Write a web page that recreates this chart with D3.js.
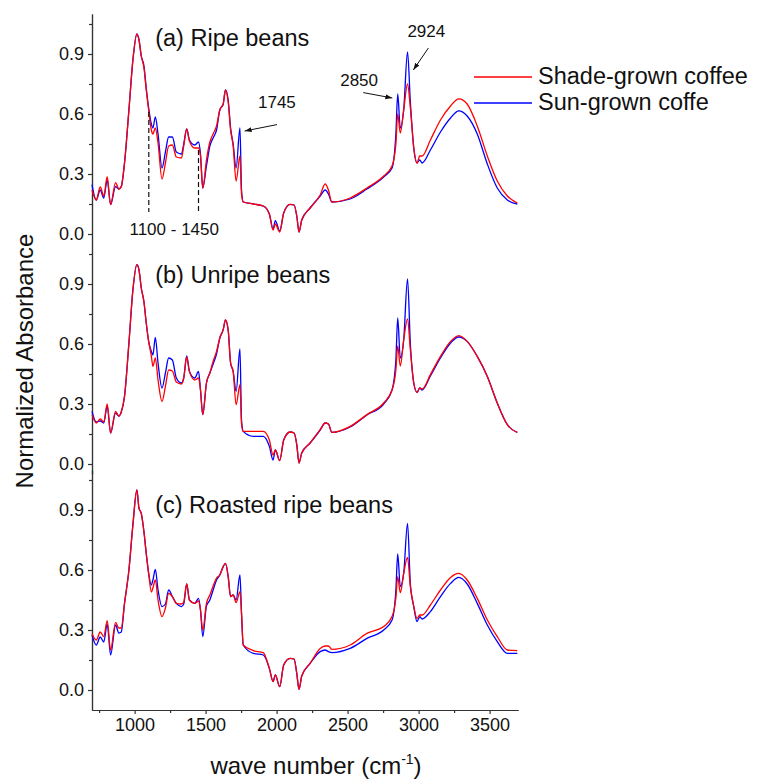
<!doctype html>
<html>
<head>
<meta charset="utf-8">
<script src="https://d3js.org/d3.v7.min.js"></script>
<style>
    body { margin: 0; background: #fff; }
    text { font-family: "Liberation Sans", Arial, sans-serif; fill: #111; }
    .axis path, .axis line { stroke: #333; stroke-width: 1.2; }
    .axis text { font-size: 18px; fill: #111; }
</style>
</head>
<body>
<div id="chart"></div>
<script>

// wave numbers shared by every spectrum (cm-1)
var waveNumbers = [700, 730, 758, 783, 807, 831, 866, 889, 906, 929, 960, 988, 1016, 1031, 1047, 1066, 1082, 1099,
    1118, 1129, 1146, 1165, 1193, 1217, 1240, 1266, 1294, 1330, 1346, 1367, 1386, 1424, 1450, 1464, 1480, 1506,
    1530, 1553, 1577, 1600, 1624, 1640, 1659, 1676, 1694, 1715, 1742, 1753, 1765, 1836, 1906, 1949, 1975, 1991,
    2022, 2050, 2095, 2123, 2142, 2158, 2177, 2236, 2307, 2342, 2365, 2389, 2518, 2636, 2754, 2813, 2840, 2853,
    2871, 2895, 2922, 2942, 2966, 2989, 3008, 3025, 3083, 3154, 3225, 3283, 3342, 3413, 3484, 3554, 3625, 3695];

// (a) ripe beans
var ripeShade = [0.22, 0.17, 0.235, 0.19, 0.287, 0.147, 0.257, 0.225, 0.237, 0.355, 0.62, 0.87, 1.0, 0.97, 0.89, 0.83, 0.72, 0.62,
    0.52, 0.50, 0.53, 0.455, 0.275, 0.355, 0.44, 0.445, 0.385, 0.38, 0.44, 0.525, 0.465, 0.43, 0.43, 0.39, 0.23, 0.37,
    0.46, 0.50, 0.54, 0.62, 0.65, 0.72, 0.66, 0.52, 0.44, 0.265, 0.39, 0.20, 0.16, 0.15, 0.14, 0.10, 0.02, 0.05,
    0.01, 0.105, 0.148, 0.145, 0.09, 0.01, 0.07, 0.13, 0.195, 0.25, 0.22, 0.16, 0.18, 0.23, 0.29, 0.34, 0.45, 0.60,
    0.505, 0.62, 0.75, 0.63, 0.43, 0.355, 0.39, 0.39, 0.47, 0.57, 0.64, 0.676, 0.65, 0.54, 0.39, 0.265, 0.19, 0.155];
var ripeSun = [0.247, 0.17, 0.22, 0.18, 0.27, 0.147, 0.237, 0.225, 0.237, 0.355, 0.62, 0.87, 1.0, 0.97, 0.89, 0.84, 0.73, 0.63,
    0.55, 0.53, 0.585, 0.50, 0.33, 0.41, 0.485, 0.485, 0.41, 0.40, 0.45, 0.525, 0.47, 0.445, 0.46, 0.40, 0.23, 0.34,
    0.44, 0.48, 0.52, 0.62, 0.65, 0.72, 0.67, 0.53, 0.45, 0.33, 0.53, 0.22, 0.16, 0.15, 0.14, 0.10, 0.025, 0.067,
    0.015, 0.105, 0.148, 0.145, 0.09, 0.01, 0.07, 0.13, 0.19, 0.22, 0.20, 0.16, 0.175, 0.225, 0.285, 0.33, 0.50, 0.70,
    0.53, 0.62, 0.91, 0.66, 0.43, 0.355, 0.37, 0.355, 0.42, 0.51, 0.58, 0.616, 0.59, 0.50, 0.35, 0.23, 0.17, 0.15];

// (b) unripe beans
var unripeShade = [0.247, 0.205, 0.225, 0.21, 0.30, 0.155, 0.263, 0.24, 0.26, 0.338, 0.605, 0.87, 0.997, 0.97, 0.88, 0.81, 0.705, 0.613,
    0.54, 0.488, 0.53, 0.42, 0.313, 0.388, 0.47, 0.465, 0.41, 0.40, 0.43, 0.535, 0.463, 0.42, 0.43, 0.37, 0.247, 0.405,
    0.455, 0.513, 0.563, 0.63, 0.672, 0.72, 0.67, 0.505, 0.463, 0.297, 0.397, 0.20, 0.163, 0.163, 0.163, 0.12, 0.045, 0.07,
    0.017, 0.12, 0.16, 0.155, 0.097, 0.005, 0.055, 0.105, 0.172, 0.205, 0.20, 0.158, 0.188, 0.247, 0.305, 0.37, 0.47, 0.59,
    0.49, 0.62, 0.725, 0.57, 0.405, 0.358, 0.38, 0.375, 0.447, 0.538, 0.613, 0.642, 0.613, 0.538, 0.438, 0.305, 0.197, 0.158];
var unripeSun = [0.263, 0.21, 0.215, 0.205, 0.29, 0.155, 0.255, 0.24, 0.26, 0.338, 0.605, 0.87, 0.997, 0.97, 0.88, 0.81, 0.705, 0.613,
    0.563, 0.545, 0.633, 0.505, 0.38, 0.455, 0.53, 0.52, 0.43, 0.405, 0.43, 0.54, 0.463, 0.43, 0.463, 0.37, 0.247, 0.405,
    0.455, 0.50, 0.55, 0.63, 0.672, 0.72, 0.67, 0.505, 0.463, 0.363, 0.575, 0.22, 0.163, 0.138, 0.138, 0.088, 0.02, 0.07,
    0.017, 0.12, 0.16, 0.155, 0.097, 0.005, 0.055, 0.105, 0.17, 0.205, 0.20, 0.158, 0.185, 0.245, 0.30, 0.37, 0.52, 0.73,
    0.53, 0.62, 0.925, 0.60, 0.405, 0.358, 0.38, 0.37, 0.44, 0.53, 0.605, 0.635, 0.613, 0.538, 0.438, 0.305, 0.197, 0.158];

// (c) roasted ripe beans
var roastedShade = [0.283, 0.25, 0.29, 0.267, 0.347, 0.20, 0.338, 0.31, 0.31, 0.433, 0.60, 0.825, 1.0, 0.908, 0.883, 0.79, 0.683, 0.583,
    0.49, 0.51, 0.55, 0.45, 0.367, 0.41, 0.483, 0.467, 0.433, 0.43, 0.44, 0.53, 0.45, 0.433, 0.445, 0.40, 0.30, 0.433,
    0.475, 0.52, 0.56, 0.575, 0.617, 0.633, 0.567, 0.467, 0.475, 0.437, 0.492, 0.383, 0.225, 0.197, 0.187, 0.108, 0.042, 0.075,
    0.017, 0.125, 0.158, 0.155, 0.083, 0.003, 0.07, 0.133, 0.208, 0.22, 0.22, 0.203, 0.225, 0.283, 0.317, 0.367, 0.46, 0.567,
    0.487, 0.583, 0.663, 0.517, 0.417, 0.358, 0.375, 0.375, 0.425, 0.50, 0.563, 0.583, 0.55, 0.458, 0.35, 0.267, 0.20, 0.197];
var roastedSun = [0.275, 0.225, 0.265, 0.24, 0.33, 0.175, 0.325, 0.285, 0.29, 0.433, 0.60, 0.825, 1.0, 0.908, 0.883, 0.79, 0.683, 0.583,
    0.525, 0.55, 0.603, 0.50, 0.417, 0.43, 0.50, 0.467, 0.433, 0.417, 0.43, 0.53, 0.45, 0.433, 0.458, 0.40, 0.267, 0.42,
    0.45, 0.50, 0.55, 0.575, 0.617, 0.633, 0.567, 0.467, 0.475, 0.45, 0.575, 0.383, 0.225, 0.183, 0.175, 0.108, 0.042, 0.075,
    0.017, 0.125, 0.158, 0.155, 0.083, 0.003, 0.07, 0.133, 0.192, 0.20, 0.192, 0.187, 0.208, 0.258, 0.30, 0.35, 0.50, 0.68,
    0.517, 0.583, 0.833, 0.53, 0.417, 0.342, 0.367, 0.355, 0.392, 0.467, 0.533, 0.563, 0.53, 0.433, 0.325, 0.242, 0.183, 0.183];

var seriesNames = ["Shade-grown coffee", "Sun-grown coffe"];
var panelTitles = ["(a) Ripe beans", "(b) Unripe beans", "(c) Roasted ripe beans"];
var xTicks = [1000, 1500, 2000, 2500, 3000, 3500];
var xMinorTicks = [750, 1250, 1750, 2250, 2750, 3250];
var yTicks = [0.0, 0.3, 0.6, 0.9];
var yMinorTicks = [0.15, 0.45, 0.75, 1.05];

var colors = ["#ff0000", "#0000ff"];

var svg = d3.select("#chart").append("svg")
    .attr("width", 767)
    .attr("height", 780);

var x = d3.scaleLinear().domain([700, 3700]).range([92, 518]);

// the three panels are stacked on one shared vertical axis
var panels = [
    {title: panelTitles[0], shade: ripeShade, sun: ripeSun, y: d3.scaleLinear().domain([-0.05, 1.1]).range([244, 14])},
    {title: panelTitles[1], shade: unripeShade, sun: unripeSun, y: d3.scaleLinear().domain([-0.05, 1.1]).range([474, 244])},
    {title: panelTitles[2], shade: roastedShade, sun: roastedSun, y: d3.scaleLinear().domain([-0.1, 1.1]).range([710, 470])}
];
var titleLevels = [0.94, 0.905, 0.885];

panels.forEach(function(p, i) {
    svg.append("g").attr("class", "axis")
        .attr("transform", "translate(92,0)")
        .call(d3.axisLeft(p.y).tickValues(yTicks).tickFormat(d3.format(".1f")).tickSize(4).tickSizeOuter(0).tickPadding(4));
    svg.append("g").attr("class", "axis")
        .attr("transform", "translate(92,0)")
        .call(d3.axisLeft(p.y).tickValues(yMinorTicks).tickFormat("").tickSize(3).tickSizeOuter(0));

    var line = d3.line()
        .curve(d3.curveMonotoneX)
        .x(function(d, k) { return x(waveNumbers[k]); })
        .y(function(d) { return p.y(d); });

    svg.append("path").datum(p.sun)
        .attr("d", line)
        .attr("fill", "none")
        .attr("stroke", colors[1])
        .attr("stroke-width", 1.3);
    svg.append("path").datum(p.shade)
        .attr("d", line)
        .attr("fill", "none")
        .attr("stroke", colors[0])
        .attr("stroke-width", 1.3);

    svg.append("text")
        .attr("x", x(1145))
        .attr("y", p.y(titleLevels[i]))
        .attr("font-size", "23.5px")
        .text(p.title);
});

// bottom axis
svg.append("g").attr("class", "axis")
    .attr("transform", "translate(0,710)")
    .call(d3.axisBottom(x).tickValues(xTicks).tickFormat(d3.format("d")).tickSize(4).tickSizeOuter(0).tickPadding(4));
svg.append("g").attr("class", "axis")
    .attr("transform", "translate(0,710)")
    .call(d3.axisBottom(x).tickValues(xMinorTicks).tickFormat("").tickSize(3).tickSizeOuter(0));

// axis titles
svg.append("text")
    .attr("transform", "translate(33,361) rotate(-90)")
    .attr("text-anchor", "middle")
    .attr("font-size", "24px")
    .text("Normalized Absorbance");

var xt = svg.append("text")
    .attr("x", 316)
    .attr("y", 774)
    .attr("text-anchor", "middle")
    .attr("font-size", "24px");
xt.append("tspan").text("wave number (cm");
xt.append("tspan").attr("font-size", "14px").attr("dy", -10).text("-1");
xt.append("tspan").attr("dy", 10).text(")");

// annotations in panel (a)
var ya = panels[0].y;
svg.append("defs").append("marker")
    .attr("id", "arrow")
    .attr("viewBox", "0 0 10 10")
    .attr("refX", 10).attr("refY", 5)
    .attr("markerWidth", 7).attr("markerHeight", 7)
    .attr("orient", "auto")
    .append("path").attr("d", "M0,1.5 L10,5 L0,8.5 Z").attr("fill", "#111");

var arrows = [
    {from: [2003, 0.547], to: [1775, 0.515]},
    {from: [2610, 0.707], to: [2815, 0.68]},
    {from: [3069, 0.93], to: [2963, 0.82]}
];
arrows.forEach(function(a) {
    svg.append("line")
        .attr("x1", x(a.from[0])).attr("y1", ya(a.from[1]))
        .attr("x2", x(a.to[0])).attr("y2", ya(a.to[1]))
        .attr("stroke", "#111").attr("stroke-width", 1)
        .attr("marker-end", "url(#arrow)");
});

var notes = [
    {text: "1745", v: 1869, a: 0.63},
    {text: "2850", v: 2448, a: 0.74},
    {text: "2924", v: 2921, a: 0.985}
];
notes.forEach(function(n) {
    svg.append("text")
        .attr("x", x(n.v)).attr("y", ya(n.a))
        .attr("font-size", "17px")
        .text(n.text);
});

[[1100, 0.61], [1450, 0.42]].forEach(function(d) {
    svg.append("line")
        .attr("x1", x(d[0])).attr("x2", x(d[0]))
        .attr("y1", ya(d[1])).attr("y2", ya(0.11))
        .attr("stroke", "#111").attr("stroke-width", 1.2)
        .attr("stroke-dasharray", "5,3");
});
svg.append("text")
    .attr("x", x(1279)).attr("y", ya(-0.004))
    .attr("text-anchor", "middle")
    .attr("font-size", "17px")
    .text("1100 - 1450");

// legend
seriesNames.forEach(function(name, i) {
    var ly = 77 + i * 26;
    svg.append("line")
        .attr("x1", 474).attr("x2", 532)
        .attr("y1", ly).attr("y2", ly)
        .attr("stroke", colors[i]).attr("stroke-width", 1.3);
    svg.append("text")
        .attr("x", 538).attr("y", ly + 7)
        .attr("font-size", "23.5px")
        .text(name);
});

</script>
</body>
</html>
